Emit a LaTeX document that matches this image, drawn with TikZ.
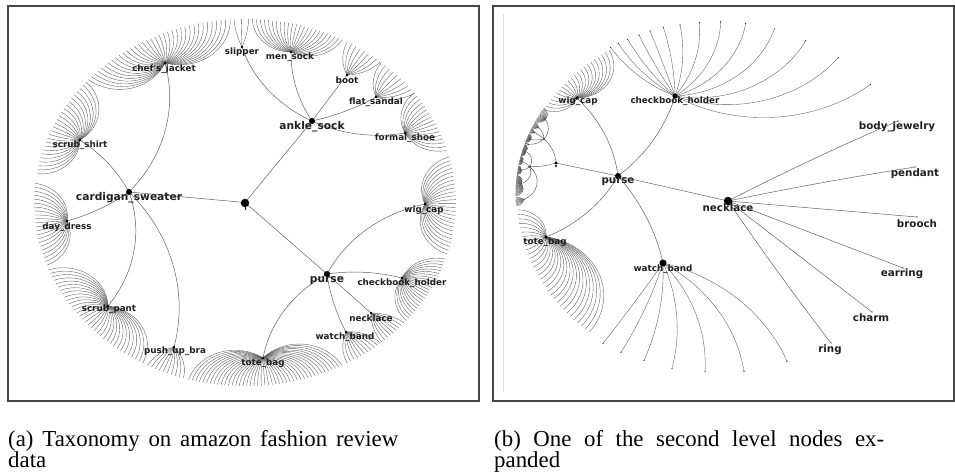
\documentclass[tikz,border=0pt]{standalone}
\usepackage{fontspec}
\setmainfont{Liberation Serif}
\newfontfamily\lblfont{DejaVu Sans}

% ---------------------------------------------------------------
% Hyperbolic geodesic in the Poincare disk between P=(#2,#3) and
% Q=(#4,#5), given in disk coordinates; #1 = draw options.
% The circle through P and Q orthogonal to the unit circle has its
% centre C on P.C=(1+|P|^2)/2 and Q.C=(1+|Q|^2)/2.
% ---------------------------------------------------------------
\newcommand\hypgeo[5][]{%
  \pgfmathsetmacro\hgDet{(#2)*(#5)-(#3)*(#4)}%
  \pgfmathtruncatemacro\hgFlat{abs(\hgDet)<0.0008}%
  \ifnum\hgFlat=1
    \draw[#1] (#2,#3) -- (#4,#5);%
  \else
    \pgfmathsetmacro\hgA{(1+(#2)*(#2)+(#3)*(#3))/2}%
    \pgfmathsetmacro\hgB{(1+(#4)*(#4)+(#5)*(#5))/2}%
    \pgfmathsetmacro\hgCx{(\hgA*(#5)-(#3)*\hgB)/\hgDet}%
    \pgfmathsetmacro\hgCy{((#2)*\hgB-\hgA*(#4))/\hgDet}%
    \pgfmathtruncatemacro\hgFar{abs(\hgCx)+abs(\hgCy)>25}%
    \ifnum\hgFar=1
      \draw[#1] (#2,#3) -- (#4,#5);%
    \else
      \pgfmathsetmacro\hgR{veclen((#2)-\hgCx,(#3)-\hgCy)}%
      \pgfmathsetmacro\hgS{atan2((#3)-\hgCy,(#2)-\hgCx)}%
      \pgfmathsetmacro\hgE{atan2((#5)-\hgCy,(#4)-\hgCx)}%
      \pgfmathsetmacro\hgD{mod(\hgE-\hgS+540,360)-180}%
      \draw[#1] (#2,#3) arc[start angle=\hgS, delta angle=\hgD, radius=\hgR];%
    \fi
  \fi
}

% fan of leaves: node (#1,#2), leaf directions #3..#4 (degrees),
% #5 leaves, ending at radius #6
\newcommand\hypfan[6]{%
  \foreach \k in {1,...,#5}{%
    \pgfmathsetmacro\hfT{#3+(\k-1)*((#4)-(#3))/((#5)-1)}%
    \pgfmathsetmacro\hfX{#6*cos(\hfT)}%
    \pgfmathsetmacro\hfY{#6*sin(\hfT)}%
    \hypgeo[fanarc]{#1}{#2}{\hfX}{\hfY}%
  }%
}

% disk isometry z -> e^{i phi} (z-a)/(1-conj(a) z), used to refocus
% the tree on the necklace node
\def\mbAx{0.5915}\def\mbAy{0.5957}
\def\mbCos{0.8535}\def\mbSin{-0.5210}
\newcommand\mobmap[4]{%
  \pgfmathsetmacro\mbNx{(#1)-\mbAx}%
  \pgfmathsetmacro\mbNy{(#2)-\mbAy}%
  \pgfmathsetmacro\mbDr{1-\mbAx*(#1)-\mbAy*(#2)}%
  \pgfmathsetmacro\mbDi{\mbAy*(#1)-\mbAx*(#2)}%
  \pgfmathsetmacro\mbQ{\mbDr*\mbDr+\mbDi*\mbDi}%
  \pgfmathsetmacro\mbWx{(\mbNx*\mbDr+\mbNy*\mbDi)/\mbQ}%
  \pgfmathsetmacro\mbWy{(\mbNy*\mbDr-\mbNx*\mbDi)/\mbQ}%
  \pgfmathsetmacro#3{\mbWx*\mbCos-\mbWy*\mbSin}%
  \pgfmathsetmacro#4{\mbWx*\mbSin+\mbWy*\mbCos}%
}
% refocused edge between two nodes of the first tree
\newcommand\mobgeo[4]{%
  \mobmap{#1}{#2}{\mgPx}{\mgPy}%
  \mobmap{#3}{#4}{\mgQx}{\mgQy}%
  \hypgeo[link]{\mgPx}{\mgPy}{\mgQx}{\mgQy}%
  \fill[black] (\mgQx,\mgQy) circle[radius=0.6pt];%
}
% refocused fan
\newcommand\mobfan[5]{%
  \mobmap{#1}{#2}{\mfPx}{\mfPy}%
  \foreach \k in {1,...,#5}{%
    \pgfmathsetmacro\mfT{#3+(\k-1)*((#4)-(#3))/((#5)-1)}%
    \pgfmathsetmacro\mfU{0.99*cos(\mfT)}%
    \pgfmathsetmacro\mfV{0.99*sin(\mfT)}%
    \mobmap{\mfU}{\mfV}{\mfQx}{\mfQy}%
    \hypgeo[fanarc]{\mfPx}{\mfPy}{\mfQx}{\mfQy}%
  }%
}

\newcommand\lbls{\lblfont\bfseries\fontsize{7.5}{8}\selectfont}
\newcommand\lblm{\lblfont\bfseries\fontsize{8.8}{9}\selectfont}
\newcommand\lblb{\lblfont\bfseries\fontsize{9.1}{10}\selectfont}
\newcommand\capfont{\fontsize{19.5}{23}\selectfont}

\begin{document}
\begin{tikzpicture}[x=0.03cm,y=-0.03cm,
  link/.style={draw=black!65,line width=0.4pt},
  fanarc/.style={draw=black!62,line width=0.33pt},
  frame/.style={draw=black!72,line width=1.1pt},
  lab/.style={inner sep=0pt,text=black!88},
  dot/.style={fill=black}]
\useasboundingbox (0,0) rectangle (955,472);

% panel frames
\draw[frame] (8,6) rectangle (479,401);
\draw[frame] (493,6) rectangle (954,401);
\draw[black!12,line width=0.5pt] (503,14) -- (503,392);

% ================= panel (a): whole taxonomy =================
\begin{scope}[shift={(245,202.5)},x={(6.39cm,0cm)},y={(0cm,-5.565cm)}]
  % root to second level
  \hypgeo[link]{0}{0}{-0.5446}{-0.0566}
  \hypgeo[link]{0}{0}{0.3146}{-0.4394}
  \hypgeo[link]{0}{0}{0.3850}{0.3854}
  % cardigan_sweater branch
  \foreach \u/\v in {-0.3756/-0.7520,-0.7746/-0.3369,-0.8357/0.0997,-0.6432/0.5580,-0.3333/0.7790}
    {\hypgeo[link]{-0.5446}{-0.0566}{\u}{\v}}
  % ankle_sock branch
  \foreach \u/\v in {-0.0141/-0.8383,0.2160/-0.8113,0.4789/-0.6873,0.6150/-0.5687,0.7512/-0.3747}
    {\hypgeo[link]{0.3146}{-0.4394}{\u}{\v}}
  % purse branch
  \foreach \u/\v in {0.8451/0.0081,0.7371/0.4070,0.5915/0.5957,0.4742/0.6981,0.0845/0.8383}
    {\hypgeo[link]{0.3850}{0.3854}{\u}{\v}}
  % leaf fans
  \hypfan{-0.3756}{-0.7520}{-138}{-94}{36}{0.99}
  \hypfan{-0.7746}{-0.3369}{-171}{-139}{26}{0.99}
  \hypfan{-0.8357}{0.0997}{160}{186}{22}{0.99}
  \hypfan{-0.6432}{0.5580}{119}{158.5}{34}{0.99}
  \hypfan{-0.3333}{0.7790}{107}{117.5}{10}{0.99}
  \hypfan{0.0845}{0.8383}{62.6}{105.5}{44}{0.99}
  \hypfan{0.4742}{0.6981}{50}{61}{11}{0.99}
  \hypfan{0.5915}{0.5957}{41}{49.5}{9}{0.99}
  \hypfan{0.7371}{0.4070}{18}{40}{24}{0.99}
  \hypfan{0.8451}{0.0081}{-14.4}{16.3}{26}{0.99}
  \hypfan{0.7512}{-0.3747}{-36.6}{-16.5}{17}{0.99}
  \hypfan{0.6150}{-0.5687}{-49.7}{-36.5}{10}{0.99}
  \hypfan{0.4789}{-0.6873}{-61}{-50}{9}{0.99}
  \hypfan{0.2160}{-0.8113}{-88}{-62.5}{24}{0.99}
  \hypfan{-0.0141}{-0.8383}{-93}{-89}{3}{0.99}
\end{scope}

% node dots, panel (a)
\fill[dot] (245,203) circle[radius=3.6pt];
\draw[black,line width=0.8pt] (245,203) -- (245,210);
\foreach \p/\q in {129/192,312/121,327/274}
  \fill[dot] (\p,\q) circle[radius=2.6pt];
\foreach \p/\q in {165/63,80/140,67/221,108/306,174/347,242/47,291/52,347/75,376/97,405/133,425/204,402/278,371/313,346/332,263/358}
  \fill[dot] (\p,\q) circle[radius=1.2pt];

% labels, panel (a)
\node[lab,font=\lblb] (a-cs) at (129,198) {cardigan\_sweater};
\node[lab,font=\lblb] (a-as) at (312,127) {ankle\_sock};
\node[lab,font=\lblb] (a-pu) at (327,281) {purse};
\node[lab,font=\lbls] (a-cj) at (164,69) {chef's\_jacket};
\node[lab,font=\lbls] (a-ss) at (80,145) {scrub\_shirt};
\node[lab,font=\lbls] (a-dd) at (67,227) {day\_dress};
\node[lab,font=\lbls] (a-sp) at (109,309) {scrub\_pant};
\node[lab,font=\lbls] (a-pb) at (175,351) {push\_up\_bra};
\node[lab,font=\lbls] (a-sl) at (242,52) {slipper};
\node[lab,font=\lbls] (a-ms) at (290,57) {men\_sock};
\node[lab,font=\lbls] (a-bo) at (347,80) {boot};
\node[lab,font=\lbls] (a-fs) at (376,102) {flat\_sandal};
\node[lab,font=\lbls] (a-fo) at (405,138) {formal\_shoe};
\node[lab,font=\lbls] (a-wc) at (424,210) {wig\_cap};
\node[lab,font=\lbls] (a-ch) at (402,283) {checkbook\_holder};
\node[lab,font=\lbls] (a-ne) at (371,318) {necklace};
\node[lab,font=\lbls] (a-wb) at (345,337) {watch\_band};
\node[lab,font=\lbls] (a-tb) at (263,363) {tote\_bag};

% ================= panel (b): necklace in focus =================
\begin{scope}[shift={(719,197.5)},x={(6.12cm,0cm)},y={(0cm,-5.325cm)}]
  % root, purse and its children
  \hypgeo[link]{-0.7990}{-0.1944}{-0.4951}{-0.1211}
  \foreach \u/\v in {0.0441/0.0197,-0.6961/-0.5606,-0.2157/-0.5718,-0.8480/0.2225,-0.2745/0.3690}
    {\hypgeo[link]{-0.4951}{-0.1211}{\u}{\v}}
  % necklace leaves
  \foreach \u/\v in {0.8775/-0.4310,0.9608/-0.1718,0.9706/0.1099,0.9020/0.3972,0.7500/0.6451,0.5490/0.8197}
    {\hypgeo[link]{0.0441}{0.0197}{\u}{\v}
     \fill[black] (\u,\v) circle[radius=0.6pt];}
  % checkbook_holder leaves
  \foreach \u/\v in {-0.5309/-0.8462,-0.4936/-0.8687,-0.4475/-0.8913,-0.3922/-0.9155,-0.3382/-0.9380,-0.2730/-0.9589,-0.1912/-0.9718,-0.0966/-0.9848,0.0083/-0.9904,0.1309/-0.9814,0.2711/-0.9493,0.4250/-0.8834,0.5848/-0.7876,0.7436/-0.6377}
    {\hypgeo[fanarc]{-0.2157}{-0.5718}{\u}{\v}
     \fill[black] (\u,\v) circle[radius=0.45pt];}
  % watch_band leaves
  \foreach \u/\v in {-0.5686/0.8210,-0.4804/0.8717,-0.3676/0.9180,-0.2304/0.9631,-0.0686/0.9800,0.1225/0.9787,0.3333/0.9224}
    {\hypgeo[fanarc]{-0.2745}{0.3690}{\u}{\v}
     \fill[black] (\u,\v) circle[radius=0.45pt];}
  % wig_cap and tote_bag leaves
  \hypfan{-0.6961}{-0.5606}{-150}{-123}{22}{0.99}
  \hypfan{-0.8480}{0.2225}{130}{176}{32}{0.99}
  % the other two branches, pushed to the rim
  \mobmap{-0.5446}{-0.0566}{\csX}{\csY}
  \mobmap{0.3146}{-0.4394}{\asX}{\asY}
  \hypgeo[link]{-0.7990}{-0.1944}{\csX}{\csY}
  \hypgeo[link]{-0.7990}{-0.1944}{\asX}{\asY}
  \fill[black] (\csX,\csY) circle[radius=1pt];
  \fill[black] (\asX,\asY) circle[radius=1pt];
  \foreach \u/\v in {-0.3756/-0.7520,-0.7746/-0.3369,-0.8357/0.0997,-0.6432/0.5580,-0.3333/0.7790}
    {\mobgeo{-0.5446}{-0.0566}{\u}{\v}}
  \foreach \u/\v in {-0.0141/-0.8383,0.2160/-0.8113,0.4789/-0.6873,0.6150/-0.5687,0.7512/-0.3747}
    {\mobgeo{0.3146}{-0.4394}{\u}{\v}}
  \mobfan{-0.3756}{-0.7520}{-138}{-94}{36}
  \mobfan{-0.7746}{-0.3369}{-171}{-139}{26}
  \mobfan{-0.8357}{0.0997}{160}{186}{22}
  \mobfan{-0.6432}{0.5580}{119}{158.5}{34}
  \mobfan{-0.3333}{0.7790}{107}{117.5}{10}
  \mobfan{0.7512}{-0.3747}{-36.6}{-16.5}{17}
  \mobfan{0.6150}{-0.5687}{-49.7}{-36.5}{10}
  \mobfan{0.4789}{-0.6873}{-61}{-50}{9}
  \mobfan{0.2160}{-0.8113}{-88}{-62.5}{24}
  \mobfan{-0.0141}{-0.8383}{-93}{-89}{3}
\end{scope}

% node dots, panel (b)
\fill[dot] (556,163) circle[radius=1.3pt];
\fill[dot] (556,166) circle[radius=1pt];
\fill[dot] (618,176) circle[radius=2.6pt];
\fill[dot] (728,201) circle[radius=3.6pt];
\fill[dot] (663,263) circle[radius=3pt];
\fill[dot] (675,96) circle[radius=2.2pt];
\fill[dot] (577,98) circle[radius=1.5pt];
\fill[dot] (546,237) circle[radius=1.5pt];

% labels, panel (b)
\node[lab,font=\lblm] (b-pu) at (618,182) {purse};
\node[lab,font=\lblm] (b-ne) at (728,208) {necklace};
\node[lab,font=\lbls] (b-wc) at (578,101) {wig\_cap};
\node[lab,font=\lbls] (b-ch) at (675,101) {checkbook\_holder};
\node[lab,font=\lbls] (b-tb) at (545,242) {tote\_bag};
\node[lab,font=\lbls] (b-wb) at (663,269) {watch\_band};
\node[lab,font=\lblm] (b-bj) at (897,127) {body\_jewelry};
\node[lab,font=\lblm] (b-pe) at (915,174) {pendant};
\node[lab,font=\lblm] (b-br) at (917,224) {brooch};
\node[lab,font=\lblm] (b-ea) at (902,274) {earring};
\node[lab,font=\lblm] (b-cm) at (871,318) {charm};
\node[lab,font=\lblm] (b-ri) at (830,350) {ring};

% captions
\node[anchor=base west,inner sep=0pt,font=\capfont] (cap-a1) at (8,446)
  {\makebox[11.7cm][s]{(a) Taxonomy on amazon fashion review}};
\node[anchor=base west,inner sep=0pt,font=\capfont] (cap-a2) at (8,467) {data};
\node[anchor=base west,inner sep=0pt,font=\capfont] (cap-b1) at (494,446)
  {\makebox[11.7cm][s]{(b) One of the second level nodes ex-}};
\node[anchor=base west,inner sep=0pt,font=\capfont] (cap-b2) at (494,467) {panded};
\end{tikzpicture}
\end{document}
